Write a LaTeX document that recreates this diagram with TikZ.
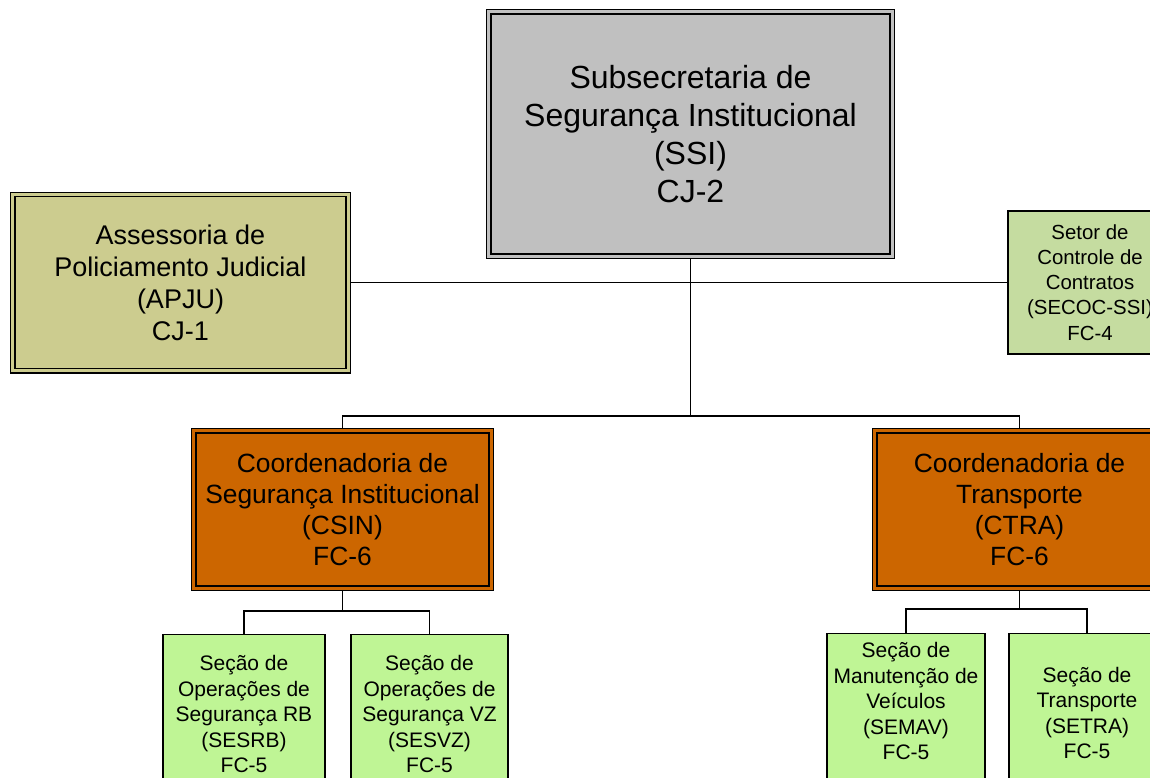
\documentclass[tikz,border=0pt]{standalone}
\usepackage{fontspec}
\setmainfont{Liberation Sans}
\usetikzlibrary{positioning}
\definecolor{cinzassi}{RGB}{192,192,192}
\definecolor{caqui}{RGB}{204,204,143}
\definecolor{laranja}{RGB}{204,102,0}
\definecolor{verdesecao}{RGB}{191,245,149}
\definecolor{verdesetor}{RGB}{197,220,160}

\begin{document}
\begin{tikzpicture}[x=0.5pt,y=-0.5pt,-,line width=0.9pt,
  dupla node/.style={rectangle,draw=black,line width=0.7pt,double distance=1.4pt,outer sep=1.4pt,align=center,inner sep=0pt},
  simples node/.style={rectangle,draw=black,line width=0.85pt,align=center,inner sep=0pt},
  secao node/.style={simples node,fill=verdesecao,anchor=north,minimum height=90pt},
  secao texto/.style={align=center,inner sep=0pt,font=\fontsize{10.5pt}{12.75pt}\selectfont}]
    \useasboundingbox (0,0) rectangle (1150,777);

    \node[dupla node,fill=cinzassi,double=cinzassi,minimum width=201.7pt,minimum height=122.2pt,
          font=\fontsize{16pt}{19pt}\selectfont] (ssi) at (690.5,134)
          {Subsecretaria de\\Segurança Institucional\\(SSI)\\CJ-2};
    \node[dupla node,fill=caqui,double=caqui,minimum width=167.7pt,minimum height=88.2pt,
          font=\fontsize{13.5pt}{16pt}\selectfont] (apju) at (180.5,282.5)
          {Assessoria de\\Policiamento Judicial\\(APJU)\\CJ-1};
    \node[simples node,fill=verdesetor,minimum width=82.2pt,minimum height=71.7pt,
          font=\fontsize{10.2pt}{12.6pt}\selectfont] (secoc) at (1090,282.5)
          {Setor de\\Controle de\\Contratos\\(SECOC-SSI)\\FC-4};
    \node[dupla node,fill=laranja,double=laranja,minimum width=148.7pt,minimum height=78.7pt,
          font=\fontsize{13.2pt}{15.5pt}\selectfont] (csin) at (342.5,509.5)
          {Coordenadoria de\\Segurança Institucional\\(CSIN)\\FC-6};
    \node[dupla node,fill=laranja,double=laranja,minimum width=144.7pt,minimum height=78.7pt,
          font=\fontsize{13.2pt}{15.5pt}\selectfont] (ctra) at (1019.5,509.5)
          {Coordenadoria de\\Transporte\\(CTRA)\\FC-6};

    % secoes
    \node[secao node,minimum width=81.2pt] (sesrb) at (244,633.7) {};
    \node[secao node,minimum width=78.7pt] (sesvz) at (429.5,633.7) {};
    \node[secao node,minimum width=79.2pt] (semav) at (906,632.7) {};
    \node[secao node,minimum width=78.2pt] (setra) at (1087,632.7) {};
    \node[secao texto] (sesrb-t) at (244,714) {Seção de\\Operações de\\Segurança RB\\(SESRB)\\FC-5};
    \node[secao texto] (sesvz-t) at (429.5,714) {Seção de\\Operações de\\Segurança VZ\\(SESVZ)\\FC-5};
    \node[secao texto] (semav-t) at (906,701) {Seção de\\Manutenção de\\Veículos\\(SEMAV)\\FC-5};
    \node[secao texto] (setra-t) at (1087,713) {Seção de\\Transporte\\(SETRA)\\FC-5};

    \coordinate (barra) at (690.5,416);
    \coordinate (barra csin) at (342.5,611);
    \coordinate (barra ctra) at (1019.5,609);

    \draw (apju.east) -- (secoc.west);
    \draw (ssi.south) -- (barra);
    \draw (csin.north) |- (barra) -| (ctra.north);
    \draw (csin.south) -- (barra csin);
    \draw (sesrb.north) |- (barra csin) -| (sesvz.north);
    \draw (ctra.south) -- (barra ctra);
    \draw (semav.north) |- (barra ctra) -| (setra.north);
\end{tikzpicture}
\end{document}
